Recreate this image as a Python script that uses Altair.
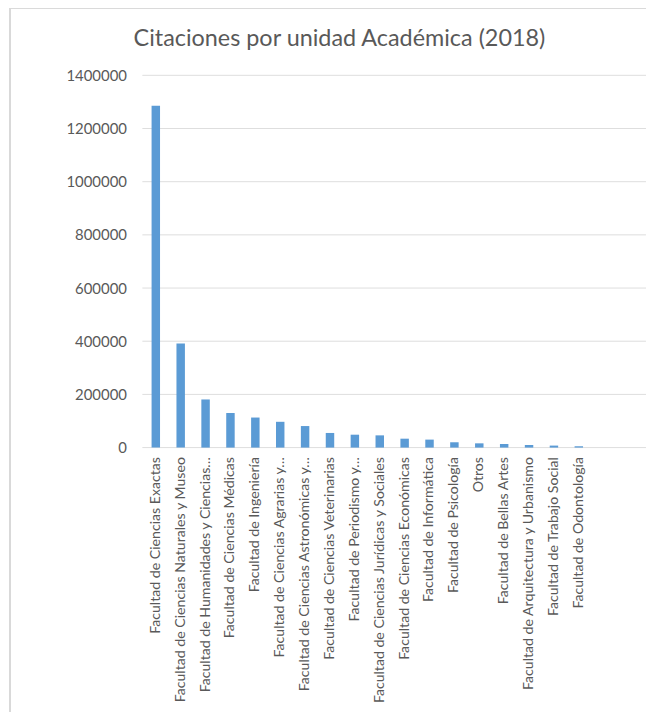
import altair as alt
import pandas as pd

categorias = [
    "Facultad de Ciencias  Exactas",
    "Facultad de Ciencias  Naturales y Museo",
    "Facultad de Humanidades y Ciencias…",
    "Facultad de Ciencias  Médicas",
    "Facultad de Ingeniería",
    "Facultad de Ciencias  Agrarias y…",
    "Facultad de Ciencias  Astronómicas y…",
    "Facultad de Ciencias  Veterinarias",
    "Facultad de Periodismo y…",
    "Facultad de Ciencias  Jurídicas y Sociales",
    "Facultad de Ciencias  Económicas",
    "Facultad de Informática",
    "Facultad de Psicología",
    "Otros",
    "Facultad de Bellas  Artes",
    "Facultad de Arquitectura y Urbanismo",
    "Facultad de Trabajo Social",
    "Facultad de Odontología",
]
citaciones = [1286000, 391000, 181000, 130000, 113000, 97000, 81000, 55000,
              48500, 46000, 33500, 30000, 20000, 16000, 13500, 9700, 7500, 5000]
y_ticks = [0, 200000, 400000, 600000, 800000, 1000000, 1200000, 1400000]

df = pd.DataFrame({"unidad": categorias, "citas": citaciones})
df_ticks = pd.DataFrame({"t": y_ticks})

FONT = "Lato"
GRAY = "#595959"
PLOT_W = 506

yscale = alt.Scale(domain=[0, 1400000], nice=False)

grid = alt.Chart(df_ticks).mark_rule(color="#dedede", strokeWidth=1).encode(
    y=alt.Y("t:Q", scale=yscale, title=None),
    x=alt.value(0), x2=alt.value(PLOT_W),
)

bars = alt.Chart(df).mark_bar(color="#5B9BD5").encode(
    x=alt.X("unidad:N", sort=categorias, title=None,
            scale=alt.Scale(paddingInner=0.66, paddingOuter=0.33, range=[1, 451]),
            axis=alt.Axis(labelAngle=-90, labelFont=FONT, labelFontSize=14.2,
                          labelColor=GRAY, ticks=False, labelPadding=9,
                          domain=False, labelLimit=400, grid=False)),
    y=alt.Y("citas:Q", title=None, scale=yscale,
            axis=alt.Axis(values=y_ticks, format="d", labelFont=FONT,
                          labelFontSize=15, labelColor=GRAY, ticks=False,
                          domain=False, labelPadding=16, grid=False)),
)

border = alt.Chart(df).mark_rule(color="#d9d9d9", strokeWidth=1.5).encode(
    x=alt.value(-133), y=alt.value(-68), y2=alt.value(650)
)
border_top = alt.Chart(df).mark_rule(color="#d9d9d9", strokeWidth=1.5).encode(
    x=alt.value(-133), x2=alt.value(520), y=alt.value(-68)
)

chart = alt.layer(border, border_top, grid, bars).properties(
    width=PLOT_W, height=374,
    autosize=alt.AutoSizeParams(type="none"),
    padding={"left": 135, "top": 66, "right": 0, "bottom": 264},
    title=alt.TitleParams("Citaciones por unidad Académica (2018)", font=FONT,
                          fontSize=23.5, fontWeight="normal", color=GRAY,
                          anchor="middle", dx=-55, dy=32, offset=-12),
).configure_view(stroke=None)

chart.save("out.html", embed_options={"renderer": "svg", "actions": False})
